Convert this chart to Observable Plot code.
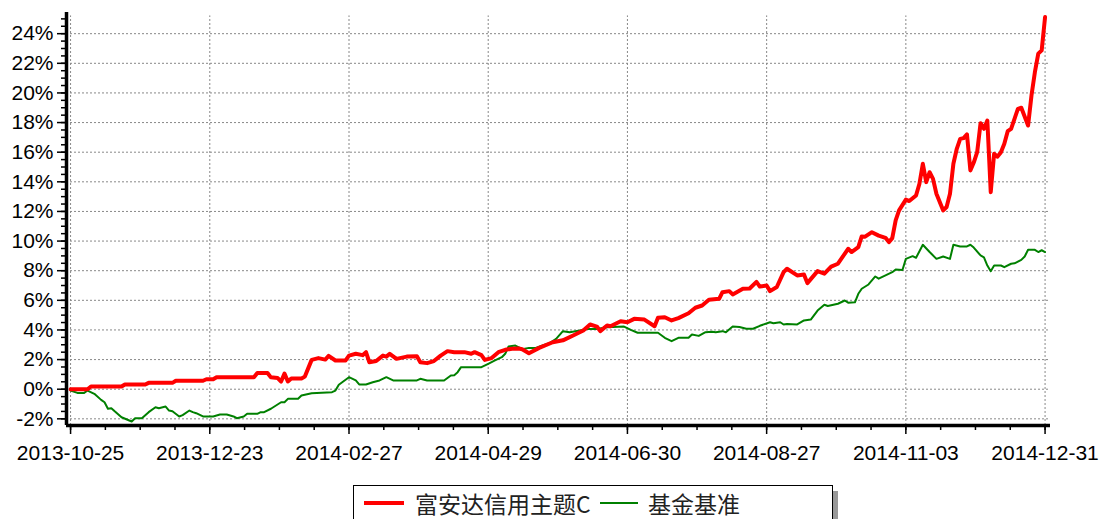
<!DOCTYPE html>
<html>
<head>
<meta charset="utf-8">
<script src="https://cdn.jsdelivr.net/npm/d3@7"></script>
<script src="https://cdn.jsdelivr.net/npm/@observablehq/plot@0.6"></script>
<style>
  html, body { margin: 0; padding: 0; background: #fff; }
  #wrap { position: relative; width: 1099px; height: 519px; overflow: hidden; }
  #legend {
    position: absolute; left: 353px; top: 485px; width: 478px; height: 44px;
    border: 1px solid #000; background: #fff; box-shadow: 5px 6px 0 #999;
    font-family: "Noto Sans CJK SC", sans-serif; font-size: 23px; color: #222;
  }
  .item { position: absolute; top: 0; height: 34px; display: flex; align-items: center; }
  .sw { display: inline-block; }
</style>
</head>
<body>
<div id="wrap">
  <div id="chart"></div>
  <div id="legend"></div>
</div>
<script>
// Trading-day index ticks and labels
const tickIndex = [0, 41, 82, 123, 164, 205, 246, 287];
const tickLabels = ["2013-10-25","2013-12-23","2014-02-27","2014-04-29","2014-06-30","2014-08-27","2014-11-03","2014-12-31"];
const seriesNames = ["富安达信用主题C", "基金基准"];

// 富安达信用主题C (cumulative return, %)
const redT = [0,5,6,15,16,22,23,30,31,39,40,42,43,54,55,58,59,61,62,63,64,65,68,69,71,73,75,76,78,81,82,84,86,87,88,90,92,93,94,96,97,99,102,103,105,107,109,111,113,116,118,119,121,122,124,126,128,130,132,133,135,138,142,145,148,151,153,155,156,158,159,162,164,166,169,172,173,175,177,179,182,184,186,188,191,192,194,195,198,200,202,203,205,206,208,210,211,214,216,217,220,222,224,226,229,230,232,233,234,236,238,240,241,242,243,244,246,247,249,250,251,252,253,254,255,257,258,259,260,261,262,263,264,265,266,267,268,269,270,271,272,273,274,275,276,277,279,280,282,283,284,285,286,287];
const redV = [0,0,0.18,0.18,0.32,0.32,0.43,0.43,0.57,0.57,0.67,0.67,0.81,0.81,1.1,1.1,0.8,0.75,0.52,1.05,0.52,0.72,0.72,0.85,1.98,2.1,2.0,2.25,1.94,1.94,2.27,2.39,2.3,2.5,1.82,1.9,2.27,2.2,2.39,2.05,2.1,2.2,2.22,1.82,1.76,1.9,2.27,2.57,2.5,2.5,2.39,2.5,2.3,1.98,2.1,2.5,2.66,2.73,2.75,2.7,2.43,2.79,3.17,3.3,3.63,3.96,4.37,4.23,3.92,4.3,4.25,4.59,4.52,4.75,4.7,4.25,4.82,4.86,4.64,4.8,5.13,5.5,5.65,6.04,6.1,6.55,6.62,6.4,6.78,6.8,7.25,6.93,7.0,6.62,6.9,7.9,8.13,7.68,7.75,7.16,7.97,7.8,8.28,8.47,9.48,9.26,9.59,10.31,10.3,10.6,10.37,10.22,9.93,10.2,11.39,12.07,12.8,12.7,13.08,13.87,15.22,13.98,14.65,14.2,13.19,12.07,12.3,13.19,15.22,16.23,16.9,16.95,17.2,14.77,15.3,16.0,17.96,17.58,18.14,13.3,15.9,15.7,16.0,16.57,17.42,17.58,18.93,19.0,17.8,19.83,21.4,22.65,22.87,25.12];

// 基金基准 (benchmark, %)
const greenT = [0,2,4,5,7,9,10,11,12,13,15,18,19,21,23,25,26,28,29,30,32,33,35,36,37,39,42,44,46,48,49,51,52,55,56,57,59,62,63,64,67,68,71,77,78,79,80,82,84,85,87,89,91,93,95,102,103,105,110,112,113,114,115,121,123,125,127,128,129,131,133,135,137,139,141,143,145,147,150,152,155,158,163,165,167,173,175,177,179,182,183,185,187,189,190,192,193,195,197,199,201,203,206,207,209,210,211,214,216,218,220,222,223,225,226,228,229,231,232,233,235,237,238,240,242,243,245,246,248,249,251,253,255,257,259,260,262,264,265,266,268,269,270,271,272,274,275,277,278,280,281,282,284,285,286,287];
const greenV = [-0.09,-0.25,-0.25,-0.09,-0.31,-0.72,-0.88,-1.32,-1.28,-1.49,-1.89,-2.18,-1.96,-1.96,-1.55,-1.22,-1.28,-1.17,-1.44,-1.49,-1.84,-1.75,-1.44,-1.55,-1.62,-1.84,-1.84,-1.71,-1.71,-1.84,-1.96,-1.84,-1.66,-1.66,-1.55,-1.55,-1.32,-0.88,-0.88,-0.65,-0.65,-0.43,-0.27,-0.2,-0.09,0.3,0.47,0.81,0.59,0.32,0.32,0.47,0.59,0.81,0.59,0.59,0.7,0.59,0.59,0.93,0.95,1.15,1.49,1.49,1.71,1.94,2.16,2.39,2.88,2.95,2.7,2.79,2.79,2.95,3.1,3.4,3.92,3.85,3.96,4.07,4.07,4.19,4.23,4.01,3.81,3.81,3.47,3.24,3.47,3.47,3.69,3.6,3.85,3.88,3.85,3.92,3.85,4.23,4.2,4.08,4.08,4.28,4.52,4.45,4.52,4.37,4.4,4.37,4.64,4.7,5.31,5.7,5.62,5.72,5.77,5.99,5.84,5.87,6.44,6.78,7.07,7.61,7.46,7.68,7.9,8.08,8.05,8.8,8.98,8.87,9.75,9.26,8.8,8.96,8.8,9.75,9.64,9.64,9.75,9.56,9.03,8.9,8.35,7.97,8.35,8.35,8.24,8.47,8.5,8.73,8.96,9.41,9.41,9.26,9.38,9.26];

const yMajor = d3.range(-2, 25, 2);
const yMinor = d3.range(-2, 25.01, 0.5);
const xMinor = d3.range(0, 288, 41 / 4);

const red = redT.map((t, i) => ({t, v: redV[i]}));
const green = greenT.map((t, i) => ({t, v: greenV[i]}));

const xMin = -1.2, xMax = 288.6, yMin = -2.45, yMax = 25.43;
const labelOf = new Map(tickIndex.map((t, i) => [t, tickLabels[i]]));

const chart = Plot.plot({
  width: 1099,
  height: 470,
  marginLeft: 66,
  marginRight: 49,
  marginTop: 12,
  marginBottom: 45,
  style: {fontFamily: "'Liberation Sans', Arial, sans-serif", fontSize: "21px", color: "#000", background: "#fff"},
  x: {domain: [xMin, xMax]},
  y: {domain: [yMin, yMax]},
  marks: [
    Plot.ruleY(yMajor, {x1: xMin, x2: xMax, stroke: "#888", strokeWidth: 1, strokeDasharray: "2,2"}),
    Plot.ruleX(tickIndex, {y1: yMin, y2: 25.2, stroke: "#888", strokeWidth: 1, strokeDasharray: "2,2"}),
    Plot.line(green, {x: "t", y: "v", stroke: "#008000", strokeWidth: 2}),
    Plot.line(red, {x: "t", y: "v", stroke: "#ff0000", strokeWidth: 4, strokeLinejoin: "round"}),
    Plot.axisY(yMinor, {tickSize: 5, text: null, stroke: "#000", strokeWidth: 1.5, label: null}),
    Plot.axisY(yMajor, {tickSize: 9, tickPadding: 4, tickFormat: d => d + "%", stroke: "#000", strokeWidth: 1.5, label: null, fill: "#000"}),
    Plot.axisX(xMinor, {tickSize: 5, text: null, stroke: "#000", strokeWidth: 1.5, label: null}),
    Plot.axisX(tickIndex, {tickSize: 9, tickPadding: 11, tickFormat: d => labelOf.get(d), stroke: "#000", strokeWidth: 1.5, label: null, fill: "#000"}),
    Plot.ruleX([xMin], {y1: yMin, y2: yMax, stroke: "#000", strokeWidth: 3.5}),
    Plot.ruleY([yMin], {x1: xMin, x2: xMax, stroke: "#000", strokeWidth: 3.5})
  ]
});
document.getElementById("chart").appendChild(chart);

// Legend
const legend = document.getElementById("legend");
const colors = ["#ff0000", "#008000"];
const widths = [4, 2];
const lefts = [10, 246];
const lineW = [40, 38];
seriesNames.forEach((name, i) => {
  const it = document.createElement("div");
  it.className = "item";
  it.style.left = lefts[i] + "px";
  const sw = document.createElement("span");
  sw.className = "sw";
  sw.style.width = lineW[i] + "px";
  sw.style.height = widths[i] + "px";
  sw.style.background = colors[i];
  sw.style.marginRight = (i === 0 ? 11 : 10) + "px";
  const tx = document.createElement("span");
  tx.textContent = name;
  it.appendChild(sw);
  it.appendChild(tx);
  legend.appendChild(it);
});
</script>
</body>
</html>
